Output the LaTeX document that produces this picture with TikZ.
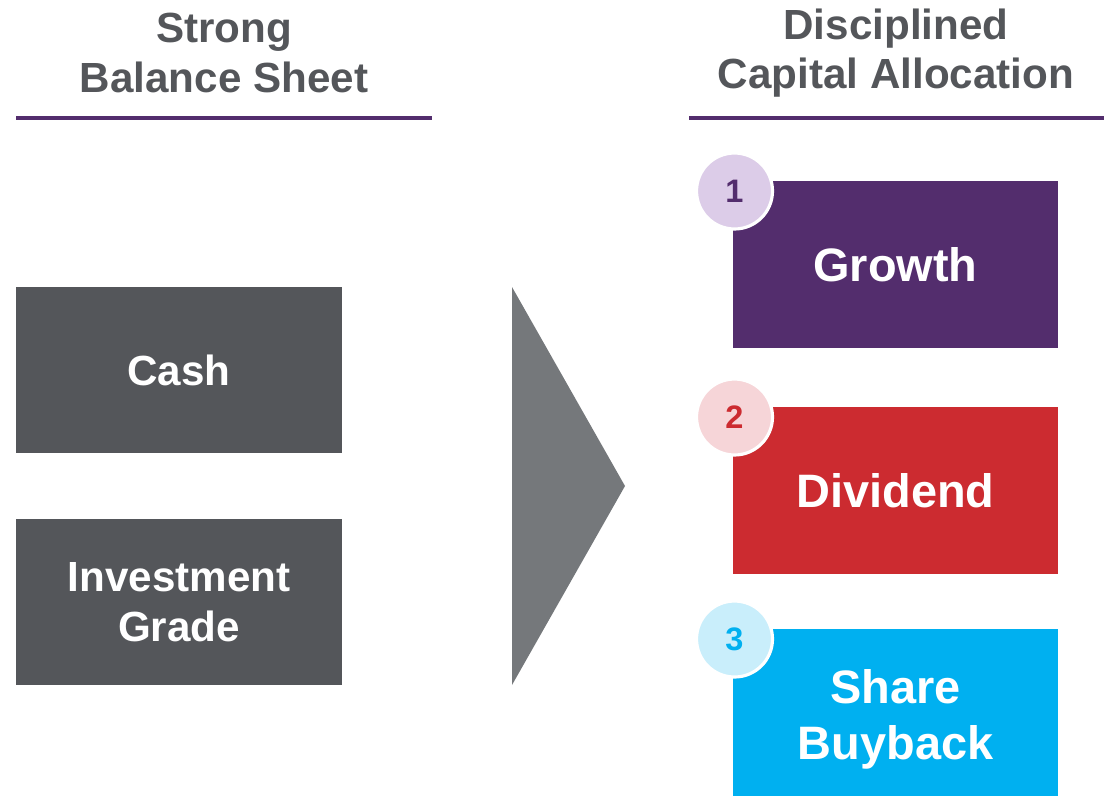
\documentclass[tikz,border=0pt]{standalone}
\usepackage{fontspec}
\setmainfont{Liberation Sans}
\usetikzlibrary{shadows}
\definecolor{slate}{HTML}{54565A}
\definecolor{arrowgray}{HTML}{75787B}
\definecolor{grape}{HTML}{532D6D}
\definecolor{grapelight}{HTML}{DCCCE8}
\definecolor{cherry}{HTML}{CC2B30}
\definecolor{cherrylight}{HTML}{F6D5D8}
\definecolor{sky}{HTML}{00B0F0}
\definecolor{skylight}{HTML}{C9EEFB}
\tikzset{
  heading/.style={text=slate, font=\bfseries\fontsize{24}{28.3}\selectfont, align=center},
  rule/.style={grape, line width=2.3pt},
  block/.style={minimum width=6.52cm, minimum height=3.34cm, inner sep=0pt, text=white, align=center},
  blocktext/.style={text=white, align=center, font=\bfseries\fontsize{26.7}{32}\selectfont},
  badge/.style={circle, minimum size=1.52cm, inner sep=0pt, draw=white, line width=1.8pt,
    font=\bfseries\fontsize{18.5}{20}\selectfont, drop shadow={opacity=0.2, shadow xshift=0.6pt, shadow yshift=-0.6pt}}
}
\begin{document}
\begin{tikzpicture}[x=0.02cm, y=-0.02cm]
  \useasboundingbox (0,0) rectangle (1111,795);
  % headings
  \node[heading] (strong) at (224,53) {Strong\\Balance Sheet};
  \node[heading] (disciplined) at (896,53) {Disciplined\\Capital Allocation};
  \draw[rule] (16,118) -- (432,118);
  \draw[rule] (689,118) -- (1104,118);
  % left side
  \node[block, fill=slate, font=\bfseries\fontsize{24}{28.3}\selectfont] (cash) at (179,370) {Cash};
  \node[block, fill=slate, font=\bfseries\fontsize{24}{28.3}\selectfont] (grade) at (179,602) {Investment\\Grade};
  % arrow
  \fill[arrowgray] (512,287) -- (625,486) -- (512,685) -- cycle;
  % right side
  \foreach \n/\y/\dy/\main/\light/\txt in {1/264.5/0/grape/grapelight/Growth,
      2/490.5/0/cherry/cherrylight/Dividend, 3/712.5/7/sky/skylight/{Share\\Buyback}} {
    \node[block, fill=\main] (box\n) at (895.5,\y) {};
    \node[blocktext] (label\n) at (895.5,\y+\dy) {\txt};
    \node[badge, fill=\light, text=\main] (num\n) at (734.5,\y-73.5) {\n};
  }
\end{tikzpicture}
\end{document}
